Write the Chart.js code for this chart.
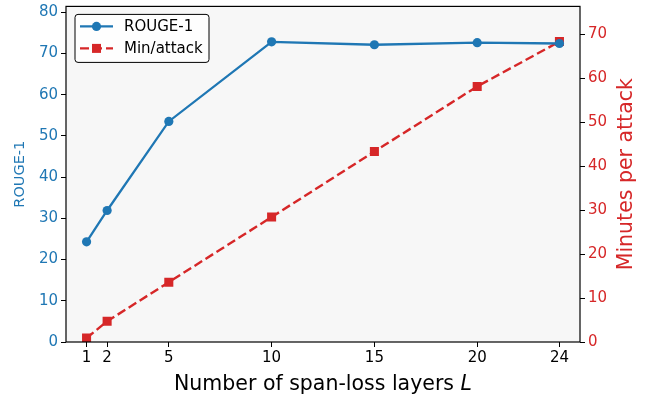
<!DOCTYPE html>
<html>
<head>
<meta charset="utf-8">
<script src="https://cdn.jsdelivr.net/npm/chart.js@4"></script>
<style>
  html, body { margin: 0; padding: 0; background: #fff; }
  #wrap { width: 646px; height: 398px; }
</style>
</head>
<body>
<div id="wrap"><canvas id="myChart" width="646" height="398"></canvas></div>
<script>
const layers = [1, 2, 5, 10, 15, 20, 24];
const rouge = [24.3, 31.9, 53.5, 72.8, 72.1, 72.6, 72.4];
const minPerAttack = [0.9, 4.7, 13.6, 28.4, 43.3, 58.1, 68.3];
const xTicks = [1, 2, 5, 10, 15, 20, 24];
const leftTicks = [0, 10, 20, 30, 40, 50, 60, 70, 80];
const rightTicks = [0, 10, 20, 30, 40, 50, 60, 70];

const blue = '#1f77b4';
const red = '#d62728';
const font = 'DejaVu Sans';

Chart.defaults.font.family = font;
Chart.defaults.animation = false;

const setTicks = (list) => (scale) => {
    scale.ticks = list.map(v => ({ value: v }));
};

// fixed axis width, no extra room for half tick labels
const fitY = (scale) => {
    scale.width = 66;
    scale.paddingTop = 0;
    scale.paddingBottom = 0;
};

const plotBg = {
    id: 'plotBg',
    beforeDraw(chart) {
        const { ctx, chartArea: a } = chart;
        ctx.save();
        ctx.fillStyle = '#f7f7f7';
        ctx.fillRect(a.left, a.top, a.right - a.left, a.bottom - a.top);
        ctx.restore();
    },
    afterDraw(chart) {
        const { ctx, chartArea: a } = chart;
        ctx.save();
        // frame
        ctx.strokeStyle = '#000';
        ctx.lineWidth = 1.2;
        ctx.strokeRect(a.left, a.top, a.right - a.left, a.bottom - a.top);

        // x title with italic L
        const cx = (a.left + a.right) / 2;
        const ty = 390;
        ctx.fillStyle = '#000';
        ctx.textBaseline = 'alphabetic';
        ctx.font = '20.5px ' + font;
        const t1 = 'Number of span-loss layers ';
        const w1 = ctx.measureText(t1).width;
        ctx.font = 'italic 20.5px ' + font;
        const w2 = ctx.measureText('L').width;
        const sx = cx - (w1 + w2) / 2;
        ctx.font = '20.5px ' + font;
        ctx.textAlign = 'left';
        ctx.fillText(t1, sx, ty);
        ctx.font = 'italic 20.5px ' + font;
        ctx.fillText('L', sx + w1, ty);

        // y titles (both read bottom to top)
        const cy = (a.top + a.bottom) / 2;
        ctx.textAlign = 'center';
        ctx.textBaseline = 'middle';
        ctx.save();
        ctx.translate(20, cy);
        ctx.rotate(-Math.PI / 2);
        ctx.fillStyle = blue;
        ctx.font = '14.5px ' + font;
        ctx.fillText('ROUGE-1', 0, 0);
        ctx.restore();
        ctx.save();
        ctx.translate(627, cy);
        ctx.rotate(-Math.PI / 2);
        ctx.fillStyle = red;
        ctx.font = '20.5px ' + font;
        ctx.fillText('Minutes per attack', 0, 0);
        ctx.restore();

        // legend
        const lx = a.left + 9, ly = a.top + 8, lw = 134, lh = 48;
        ctx.fillStyle = 'rgba(255,255,255,0.85)';
        ctx.strokeStyle = '#000';
        ctx.lineWidth = 1;
        ctx.beginPath();
        ctx.roundRect(lx, ly, lw, lh, 3);
        ctx.fill();
        ctx.stroke();
        chart.data.datasets.forEach((ds, i) => {
            const y = ly + 12 + i * 22;
            ctx.strokeStyle = ds.borderColor;
            ctx.lineWidth = ds.borderWidth;
            ctx.setLineDash(ds.borderDash || []);
            ctx.beginPath();
            ctx.moveTo(lx + 5, y);
            ctx.lineTo(lx + 38, y);
            ctx.stroke();
            ctx.setLineDash([]);
            ctx.fillStyle = ds.borderColor;
            if (ds.pointStyle === 'rect') {
                ctx.fillRect(lx + 21.5 - 4.5, y - 4.5, 9, 9);
            } else {
                ctx.beginPath();
                ctx.arc(lx + 21.5, y, 4.6, 0, Math.PI * 2);
                ctx.fill();
            }
            ctx.fillStyle = '#000';
            ctx.font = '15px ' + font;
            ctx.textAlign = 'left';
            ctx.textBaseline = 'middle';
            ctx.fillText(ds.label, lx + 49, y + 1);
        });
        ctx.restore();
    }
};

const data = {
    datasets: [
        {
            label: 'ROUGE-1',
            data: layers.map((x, i) => ({ x, y: rouge[i] })),
            borderColor: blue,
            backgroundColor: blue,
            borderWidth: 2.3,
            pointStyle: 'circle',
            pointRadius: 4.6,
            pointHoverRadius: 4.6,
            pointBorderWidth: 0,
            yAxisID: 'y',
        },
        {
            label: 'Min/attack',
            data: layers.map((x, i) => ({ x, y: minPerAttack[i] })),
            borderColor: red,
            backgroundColor: red,
            borderWidth: 2.4,
            borderDash: [9, 4],
            pointStyle: 'rect',
            pointRadius: 6.4,
            pointHoverRadius: 6.4,
            pointBorderWidth: 0,
            yAxisID: 'y1',
        },
    ],
};

const config = {
    type: 'line',
    data: data,
    plugins: [plotBg],
    options: {
        responsive: false,
        layout: { padding: { top: 4, left: 0, right: 0, bottom: 0 } },
        plugins: {
            legend: { display: false },
            tooltip: { enabled: false },
        },
        scales: {
            x: {
                type: 'linear',
                min: 0,
                max: 25,
                afterBuildTicks: setTicks(xTicks),
                afterFit(scale) { scale.height = 56; scale.paddingLeft = 0; scale.paddingRight = 0; },
                grid: { drawOnChartArea: false, drawTicks: true, tickLength: 5, color: '#000' },
                border: { display: false },
                ticks: { color: '#000', font: { size: 15 }, padding: 2, maxRotation: 0, autoSkip: false },
            },
            y: {
                position: 'left',
                min: 0,
                max: 81.4,
                afterBuildTicks: setTicks(leftTicks),
                afterFit: fitY,
                grid: { drawOnChartArea: false, drawTicks: true, tickLength: 5, color: '#000' },
                border: { display: false },
                ticks: { color: blue, font: { size: 15 }, padding: 3 },
            },
            y1: {
                position: 'right',
                min: 0,
                max: 76.3,
                afterBuildTicks: setTicks(rightTicks),
                afterFit: fitY,
                grid: { drawOnChartArea: false, drawTicks: true, tickLength: 5, color: '#000' },
                border: { display: false },
                ticks: { color: red, font: { size: 15 }, padding: 3 },
            },
        },
    },
};

const myChart = new Chart(document.getElementById('myChart').getContext('2d'), config);
</script>
</body>
</html>
